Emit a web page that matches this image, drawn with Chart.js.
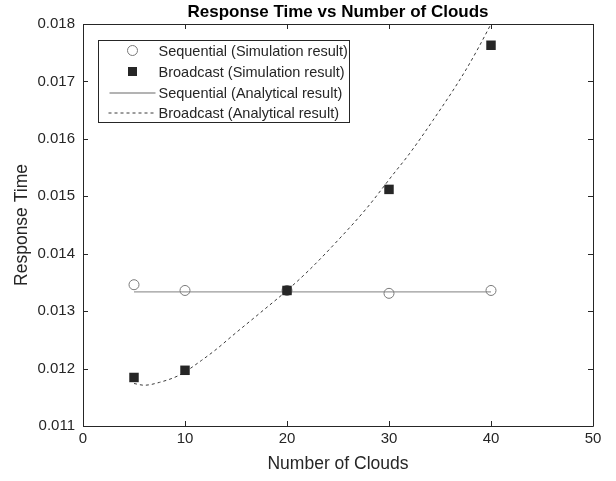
<!DOCTYPE html>
<html>
<head>
<meta charset="utf-8">
<script src="https://cdn.jsdelivr.net/npm/chart.js@4/dist/chart.umd.min.js"></script>
<style>
  html, body { margin: 0; padding: 0; background: #ffffff; }
  #wrap { width: 616px; height: 481px; position: relative; }
</style>
</head>
<body>
<div id="wrap"><canvas id="c" width="616" height="481"></canvas></div>
<script>
// Number of clouds at which the simulations were run
const clouds = [5, 10, 20, 30, 40];
// Simulated response times
const sequentialSim = [0.01346, 0.01336, 0.01336, 0.01331, 0.01336];
const broadcastSim  = [0.011845, 0.01197, 0.01336, 0.01512, 0.01763];
// Analytical model: sequential scheme (flat)
const sequentialModel = [0.013335, 0.013335, 0.013335, 0.013335, 0.013335];
// Analytical model: broadcast scheme, sampled along the curve
const modelClouds    = [5, 6, 7.5, 9.5, 11.6, 13.1, 14.7, 17.3, 20, 22.2, 24.5, 27.8, 30.4, 32, 34.3, 37.6, 40, 40.5];
const broadcastModel = [0.01174, 0.01171, 0.01176, 0.01189, 0.01214, 0.01234, 0.01258, 0.01296, 0.01336, 0.01372, 0.01414, 0.01479, 0.01538, 0.01574, 0.01632, 0.01722, 0.01800, 0.01818];
// Axis ticks
const xTicks = [0, 10, 20, 30, 40, 50];
const yTicks = [0.011, 0.012, 0.013, 0.014, 0.015, 0.016, 0.017, 0.018];
const legendLabels = [
  'Sequential (Simulation result)',
  'Broadcast (Simulation result)',
  'Sequential (Analytical result)',
  'Broadcast (Analytical result)'
];

const FONT = 'Arial, "Liberation Sans", Helvetica, sans-serif';
const INK = '#262626';

const pts = (xs, ys) => xs.map((x, i) => ({ x: x, y: ys[i] }));

// Box around the axes with inward ticks on all four sides, plus the legend
const framePlugin = {
  id: 'frame',
  afterDraw(chart) {
    const { ctx, chartArea: a, scales } = chart;
    ctx.save();
    ctx.strokeStyle = INK;
    ctx.lineWidth = 1;
    ctx.beginPath();
    ctx.rect(Math.round(a.left) + 0.5, Math.round(a.top) + 0.5,
             Math.round(a.right - a.left), Math.round(a.bottom - a.top));
    ctx.stroke();
    const tl = 5;
    ctx.beginPath();
    xTicks.forEach(v => {
      const px = Math.round(scales.x.getPixelForValue(v)) + 0.5;
      ctx.moveTo(px, a.bottom); ctx.lineTo(px, a.bottom - tl);
      ctx.moveTo(px, a.top); ctx.lineTo(px, a.top + tl);
    });
    yTicks.forEach(v => {
      const py = Math.round(scales.y.getPixelForValue(v)) + 0.5;
      ctx.moveTo(a.left, py); ctx.lineTo(a.left + tl, py);
      ctx.moveTo(a.right, py); ctx.lineTo(a.right - tl, py);
    });
    ctx.stroke();

    // Legend box
    const bx = a.left + 15.5, by = a.top + 16.5, bw = 251, bh = 82;
    ctx.fillStyle = '#ffffff';
    ctx.fillRect(bx, by, bw, bh);
    ctx.strokeStyle = INK;
    ctx.strokeRect(bx, by, bw, bh);
    const rowY = [by + 10, by + 31, by + 52, by + 72];
    const symX = bx + 34;
    const ds = chart.data.datasets;
    // circle
    ctx.beginPath();
    ctx.arc(symX, rowY[0], ds[0].pointRadius, 0, Math.PI * 2);
    ctx.strokeStyle = ds[0].pointBorderColor;
    ctx.lineWidth = ds[0].pointBorderWidth;
    ctx.stroke();
    // square
    ctx.fillStyle = ds[1].pointBackgroundColor;
    ctx.fillRect(symX - 4.5, rowY[1] - 4.5, 9, 9);
    // solid line
    ctx.beginPath();
    ctx.strokeStyle = ds[2].borderColor;
    ctx.lineWidth = ds[2].borderWidth;
    ctx.moveTo(symX - 23, rowY[2] + 0.5); ctx.lineTo(symX + 23, rowY[2] + 0.5);
    ctx.stroke();
    // dashed line
    ctx.beginPath();
    ctx.strokeStyle = ds[3].borderColor;
    ctx.lineWidth = ds[3].borderWidth;
    ctx.setLineDash(ds[3].borderDash);
    ctx.moveTo(symX - 24, rowY[3] + 0.5); ctx.lineTo(symX + 24, rowY[3] + 0.5);
    ctx.stroke();
    ctx.setLineDash([]);
    // labels
    ctx.fillStyle = INK;
    ctx.font = '14.5px ' + FONT;
    ctx.textBaseline = 'middle';
    ctx.textAlign = 'left';
    legendLabels.forEach((t, i) => ctx.fillText(t, bx + 60, rowY[i] + 1));
    ctx.restore();
  }
};

new Chart(document.getElementById('c'), {
  type: 'scatter',
  data: {
    datasets: [
      {
        label: legendLabels[0],
        data: pts(clouds, sequentialSim),
        showLine: false,
        pointStyle: 'circle',
        pointRadius: 5,
        pointBackgroundColor: 'rgba(255,255,255,0)',
        pointBorderColor: '#7a7a7a',
        pointBorderWidth: 1,
        order: 1
      },
      {
        label: legendLabels[1],
        data: pts(clouds, broadcastSim),
        showLine: false,
        pointStyle: 'rect',
        pointRadius: 6.7,
        pointBackgroundColor: '#262626',
        pointBorderColor: '#262626',
        pointBorderWidth: 0,
        order: 0
      },
      {
        label: legendLabels[2],
        data: pts(clouds, sequentialModel),
        showLine: true,
        borderColor: '#9a9a9a',
        borderWidth: 1.3,
        pointRadius: 0,
        order: 3
      },
      {
        label: legendLabels[3],
        data: pts(modelClouds, broadcastModel),
        showLine: true,
        borderColor: '#3a3a3a',
        borderWidth: 1,
        borderDash: [3, 3],
        cubicInterpolationMode: 'monotone',
        pointRadius: 0,
        order: 2
      }
    ]
  },
  options: {
    responsive: false,
    devicePixelRatio: 1,
    animation: false,
    events: [],
    layout: { padding: { left: 0, right: 23, top: 0, bottom: 0 } },
    plugins: {
      legend: { display: false },
      tooltip: { enabled: false },
      title: {
        display: true,
        fullSize: false,
        text: 'Response Time vs Number of Clouds',
        color: '#000000',
        font: { family: FONT, size: 17, weight: 'bold', lineHeight: 1.2 },
        padding: { top: 2, bottom: 1.6 }
      }
    },
    scales: {
      x: {
        type: 'linear',
        min: 0, max: 50,
        grid: { display: false, drawTicks: false },
        border: { display: false },
        afterBuildTicks: s => { s.ticks = xTicks.map(v => ({ value: v })); },
        afterFit: s => { s.height = 55; },
        ticks: { color: INK, font: { family: FONT, size: 15 }, padding: 4, maxRotation: 0 },
        title: {
          display: true, text: 'Number of Clouds', color: INK,
          font: { family: FONT, size: 17.5, lineHeight: 1.2 },
          padding: { top: 0, bottom: 6 }
        }
      },
      y: {
        type: 'linear',
        min: 0.011, max: 0.018,
        grid: { display: false, drawTicks: false },
        border: { display: false },
        afterBuildTicks: s => { s.ticks = yTicks.map(v => ({ value: v })); },
        afterFit: s => { s.width = 83; },
        ticks: {
          color: INK, font: { family: FONT, size: 15 }, padding: 8,
          callback: v => Number(v).toFixed(3)
        },
        title: {
          display: true, text: 'Response Time', color: INK,
          font: { family: FONT, size: 17.5, lineHeight: 1.2 },
          padding: { top: 12, bottom: 0 }
        }
      }
    }
  },
  plugins: [framePlugin]
});
</script>
</body>
</html>
